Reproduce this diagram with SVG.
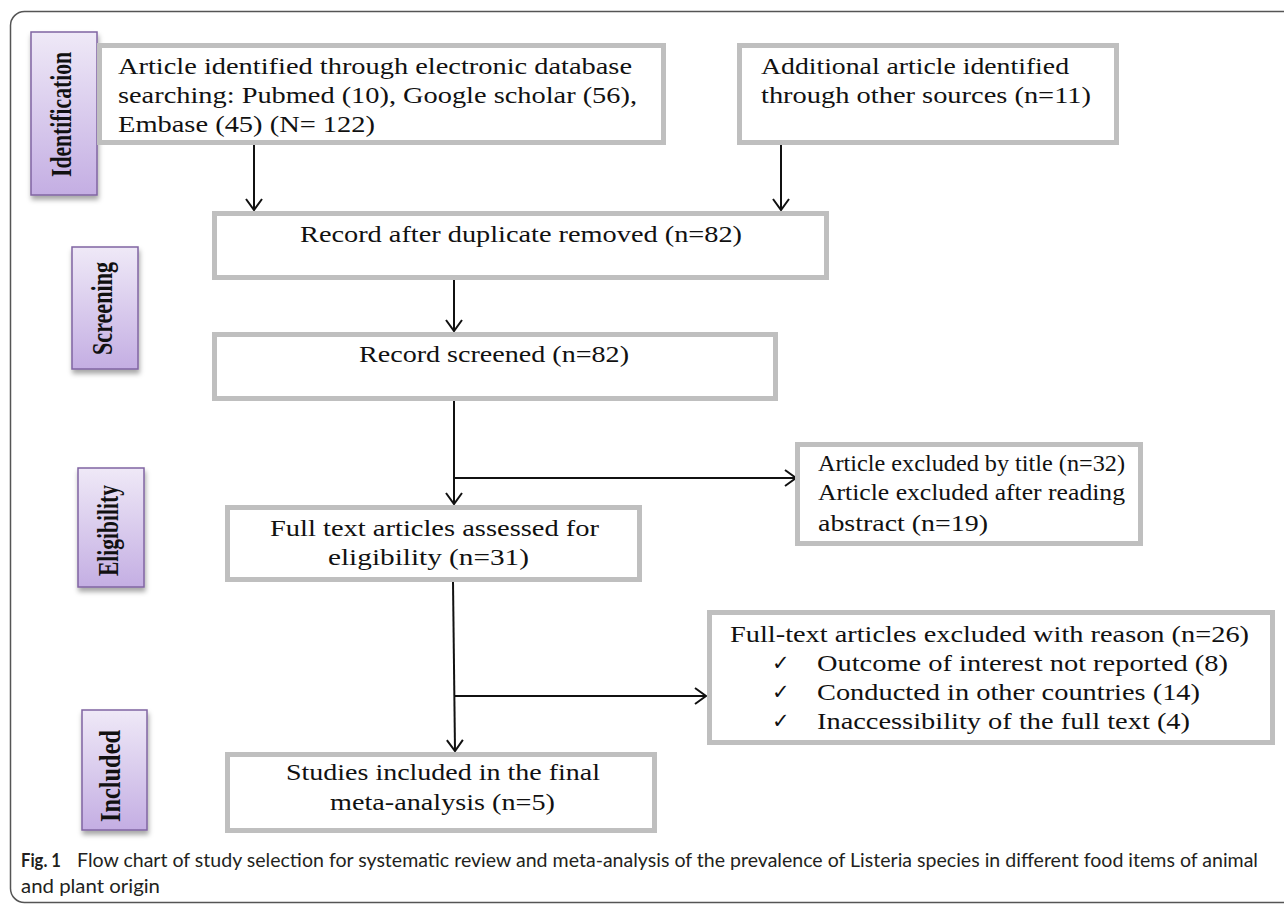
<svg xmlns="http://www.w3.org/2000/svg" width="1284" height="904" viewBox="0 0 1284 904">
<defs>
<style>
.box{fill:#fff;stroke:#bfbfbf;stroke-width:5}
.lab{stroke:#8064a2;stroke-width:1.5;fill:url(#pg)}
.t{font-family:"Liberation Serif","Times New Roman",serif;font-size:24px;fill:#111}
.lt{font-family:"Liberation Serif","Times New Roman",serif;font-size:22px;font-weight:bold;fill:#111}
.ck{font-family:"DejaVu Sans",sans-serif;font-size:21px;fill:#111}
.cap{font-family:Lato,"Open Sans",sans-serif;font-size:18.5px;fill:#231f20}
.c{fill:none;stroke:#111;stroke-width:2}
</style>
<linearGradient id="pg" x1="0" y1="0" x2="0" y2="1">
<stop offset="0" stop-color="#efe9f7"/>
<stop offset="1" stop-color="#c4aee3"/>
</linearGradient>
<filter id="sh" x="-20%" y="-20%" width="150%" height="150%">
<feDropShadow dx="1" dy="4" stdDeviation="2.5" flood-color="#000" flood-opacity="0.35"/>
</filter>
<marker id="arr" markerUnits="userSpaceOnUse" viewBox="-14 -10 16 20" markerWidth="16" markerHeight="20" refX="0" refY="0" orient="auto">
<path d="M-11,-8 L0,0 L-11,8" fill="none" stroke="#111" stroke-width="2"/>
</marker>
</defs>

<rect x="10.5" y="11.5" width="1300" height="891" rx="14" fill="none" stroke="#555" stroke-width="1.5"/>

<g id="stage-identification">
<rect class="lab" x="31" y="32" width="66" height="163" filter="url(#sh)"/>
<text class="lt" transform="translate(71,114.5) rotate(-90) scale(1,1.3)" text-anchor="middle" textLength="125" lengthAdjust="spacingAndGlyphs">Identification</text>
</g>
<g id="stage-screening">
<rect class="lab" x="72" y="247" width="66" height="122" filter="url(#sh)"/>
<text class="lt" transform="translate(112,308.5) rotate(-90) scale(1,1.3)" text-anchor="middle" textLength="93" lengthAdjust="spacingAndGlyphs">Screening</text>
</g>
<g id="stage-eligibility">
<rect class="lab" x="78" y="468" width="66" height="119" filter="url(#sh)"/>
<text class="lt" transform="translate(118,530.5) rotate(-90) scale(1,1.3)" text-anchor="middle" textLength="91" lengthAdjust="spacingAndGlyphs">Eligibility</text>
</g>
<g id="stage-included">
<rect class="lab" x="82" y="710" width="65" height="120" filter="url(#sh)"/>
<text class="lt" transform="translate(120,776) rotate(-90) scale(1,1.3)" text-anchor="middle" textLength="92" lengthAdjust="spacingAndGlyphs">Included</text>
</g>

<g id="connectors">
<path class="c" d="M254,145 V210" marker-end="url(#arr)"/>
<path class="c" d="M781,145 V210" marker-end="url(#arr)"/>
<path class="c" d="M454,280 V331" marker-end="url(#arr)"/>
<path class="c" d="M454,401 V504" marker-end="url(#arr)"/>
<path class="c" d="M454,478 H796" marker-end="url(#arr)"/>
<path class="c" d="M453,582 L455,751" marker-end="url(#arr)"/>
<path class="c" d="M454,696 H706" marker-end="url(#arr)"/>
</g>

<g id="db-search">
<rect class="box" x="99.5" y="45.5" width="564" height="97"/>
<text class="t" x="118" y="74" textLength="514" lengthAdjust="spacingAndGlyphs">Article identified through electronic database</text>
<text class="t" x="118" y="103" textLength="519" lengthAdjust="spacingAndGlyphs">searching: Pubmed (10), Google scholar (56),</text>
<text class="t" x="118" y="132" textLength="257" lengthAdjust="spacingAndGlyphs">Embase (45) (N= 122)</text>
</g>

<g id="other-sources">
<rect class="box" x="739.5" y="45.5" width="377" height="97"/>
<text class="t" x="761" y="74" textLength="308" lengthAdjust="spacingAndGlyphs">Additional article identified</text>
<text class="t" x="761" y="103" textLength="330" lengthAdjust="spacingAndGlyphs">through other sources (n=11)</text>
</g>

<g id="duplicates-removed">
<rect class="box" x="214.5" y="213.5" width="612" height="64"/>
<text class="t" x="300" y="242" textLength="442" lengthAdjust="spacingAndGlyphs">Record after duplicate removed (n=82)</text>
</g>

<g id="screened">
<rect class="box" x="214.5" y="334.5" width="561" height="64"/>
<text class="t" x="359" y="362" textLength="270" lengthAdjust="spacingAndGlyphs">Record screened (n=82)</text>
</g>

<g id="excluded-title">
<rect class="box" x="797.5" y="444.5" width="343" height="99"/>
<text class="t" x="818" y="471" textLength="307" lengthAdjust="spacingAndGlyphs">Article excluded by title (n=32)</text>
<text class="t" x="818" y="500" textLength="307" lengthAdjust="spacingAndGlyphs">Article excluded after reading</text>
<text class="t" x="818" y="531" textLength="170" lengthAdjust="spacingAndGlyphs">abstract (n=19)</text>
</g>

<g id="full-text">
<rect class="box" x="227.5" y="507.5" width="412" height="72"/>
<text class="t" x="270" y="536" textLength="329" lengthAdjust="spacingAndGlyphs">Full text articles assessed for</text>
<text class="t" x="328" y="565" textLength="201" lengthAdjust="spacingAndGlyphs">eligibility (n=31)</text>
</g>

<g id="excluded-reason">
<rect class="box" x="709.5" y="612.5" width="563" height="130"/>
<text class="t" x="730" y="642" textLength="519" lengthAdjust="spacingAndGlyphs">Full-text articles excluded with reason (n=26)</text>
<text class="ck" x="772" y="670">✓</text>
<text class="t" x="817" y="671" textLength="411" lengthAdjust="spacingAndGlyphs">Outcome of interest not reported (8)</text>
<text class="ck" x="772" y="699">✓</text>
<text class="t" x="817" y="700" textLength="383" lengthAdjust="spacingAndGlyphs">Conducted in other countries (14)</text>
<text class="ck" x="772" y="728">✓</text>
<text class="t" x="817" y="729" textLength="373" lengthAdjust="spacingAndGlyphs">Inaccessibility of the full text (4)</text>
</g>

<g id="included-final">
<rect class="box" x="227.5" y="754.5" width="427" height="76"/>
<text class="t" x="286" y="780" textLength="314" lengthAdjust="spacingAndGlyphs">Studies included in the final</text>
<text class="t" x="330" y="810" textLength="225" lengthAdjust="spacingAndGlyphs">meta-analysis (n=5)</text>
</g>

<g id="caption">
<text class="cap" x="21" y="867" font-weight="bold" textLength="40" lengthAdjust="spacingAndGlyphs">Fig. 1</text>
<text class="cap" x="77" y="867" textLength="1181" lengthAdjust="spacingAndGlyphs">Flow chart of study selection for systematic review and meta-analysis of the prevalence of Listeria species in different food items of animal</text>
<text class="cap" x="21" y="893" textLength="139" lengthAdjust="spacingAndGlyphs">and plant origin</text>
</g>
</svg>
